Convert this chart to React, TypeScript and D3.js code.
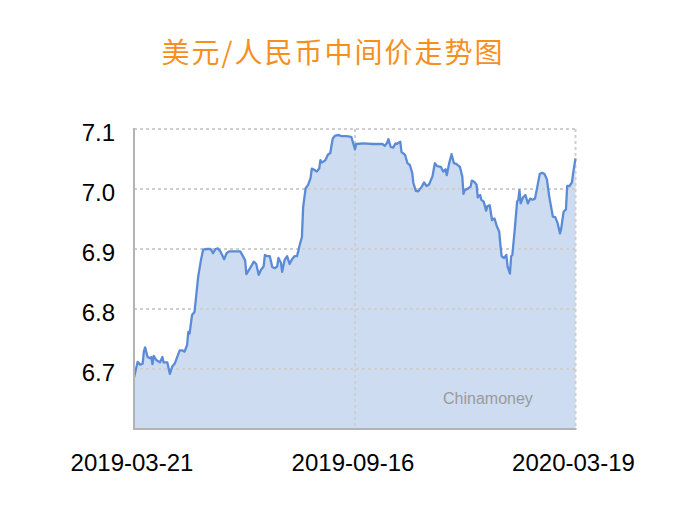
import { useMemo } from "react";
import * as d3 from "d3";

// 日期 / 中间价
const dates = [
  "2019-03-21", "2019-03-24", "2019-03-26", "2019-03-28", "2019-03-29", "2019-03-30",
  "2019-04-01", "2019-04-03", "2019-04-04", "2019-04-05", "2019-04-06", "2019-04-08",
  "2019-04-11", "2019-04-13", "2019-04-14", "2019-04-17", "2019-04-19", "2019-04-21",
  "2019-04-23", "2019-04-27", "2019-04-29", "2019-05-01", "2019-05-03", "2019-05-04",
  "2019-05-05", "2019-05-07", "2019-05-09", "2019-05-12", "2019-05-14", "2019-05-16",
  "2019-05-19", "2019-05-22", "2019-05-24", "2019-05-26", "2019-05-28", "2019-05-30",
  "2019-06-02", "2019-06-04", "2019-06-06", "2019-06-12", "2019-06-15", "2019-06-17",
  "2019-06-19", "2019-06-20", "2019-06-23", "2019-06-26", "2019-06-28", "2019-06-30",
  "2019-07-02", "2019-07-04", "2019-07-05", "2019-07-07", "2019-07-09", "2019-07-11",
  "2019-07-13", "2019-07-15", "2019-07-16", "2019-07-18", "2019-07-19", "2019-07-21",
  "2019-07-23", "2019-07-25", "2019-07-27", "2019-07-29", "2019-07-31", "2019-08-01",
  "2019-08-02", "2019-08-04", "2019-08-05", "2019-08-07", "2019-08-09", "2019-08-11",
  "2019-08-12", "2019-08-14", "2019-08-16", "2019-08-18", "2019-08-19", "2019-08-20",
  "2019-08-23", "2019-08-25", "2019-08-27", "2019-08-28", "2019-08-29", "2019-08-31",
  "2019-09-03", "2019-09-05", "2019-09-09", "2019-09-13", "2019-09-16", "2019-09-17",
  "2019-09-23", "2019-10-01", "2019-10-09", "2019-10-11", "2019-10-13", "2019-10-14",
  "2019-10-16", "2019-10-18", "2019-10-20", "2019-10-21", "2019-10-24", "2019-10-25",
  "2019-10-28", "2019-10-30", "2019-11-01", "2019-11-03", "2019-11-04", "2019-11-06",
  "2019-11-08", "2019-11-11", "2019-11-13", "2019-11-15", "2019-11-17", "2019-11-20",
  "2019-11-22", "2019-11-24", "2019-11-27", "2019-11-29", "2019-12-01", "2019-12-02",
  "2019-12-04", "2019-12-06", "2019-12-08", "2019-12-10", "2019-12-13", "2019-12-15",
  "2019-12-16", "2019-12-17", "2019-12-20", "2019-12-22", "2019-12-23", "2019-12-25",
  "2019-12-27", "2019-12-28", "2019-12-30", "2019-12-31", "2020-01-02", "2020-01-04",
  "2020-01-05", "2020-01-07", "2020-01-09", "2020-01-11", "2020-01-13", "2020-01-15",
  "2020-01-16", "2020-01-17", "2020-01-19", "2020-01-21", "2020-01-22", "2020-01-24",
  "2020-01-25", "2020-01-26", "2020-01-28", "2020-01-30", "2020-01-31", "2020-02-01",
  "2020-02-02", "2020-02-04", "2020-02-06", "2020-02-08", "2020-02-10", "2020-02-12",
  "2020-02-14", "2020-02-16", "2020-02-18", "2020-02-20", "2020-02-22", "2020-02-24",
  "2020-02-26", "2020-02-29", "2020-03-02", "2020-03-04", "2020-03-06", "2020-03-07",
  "2020-03-09", "2020-03-11", "2020-03-12", "2020-03-14", "2020-03-16", "2020-03-17",
  "2020-03-19",
];

const rates = [
  6.686, 6.712, 6.707, 6.709, 6.729, 6.736,
  6.720, 6.718, 6.720, 6.708, 6.722, 6.715,
  6.711, 6.720, 6.711, 6.711, 6.692, 6.704,
  6.709, 6.731, 6.731, 6.729, 6.740, 6.762,
  6.759, 6.790, 6.795, 6.854, 6.879, 6.899,
  6.900, 6.900, 6.893, 6.900, 6.901, 6.896,
  6.883, 6.893, 6.896, 6.896, 6.896, 6.889,
  6.881, 6.858, 6.868, 6.879, 6.875, 6.857,
  6.866, 6.871, 6.890, 6.888, 6.888, 6.870,
  6.868, 6.871, 6.885, 6.877, 6.862, 6.882,
  6.888, 6.875, 6.883, 6.888, 6.888, 6.896,
  6.905, 6.920, 6.970, 7.001, 7.007, 7.018,
  7.034, 7.032, 7.029, 7.034, 7.048, 7.044,
  7.048, 7.057, 7.060, 7.073, 7.084, 7.089,
  7.090, 7.088, 7.088, 7.087, 7.066, 7.075,
  7.076, 7.075, 7.075, 7.072, 7.077, 7.083,
  7.070, 7.069, 7.076, 7.075, 7.079, 7.062,
  7.057, 7.043, 7.040, 7.027, 7.010, 6.997,
  6.996, 7.004, 7.011, 7.005, 7.007, 7.021,
  7.043, 7.038, 7.037, 7.029, 7.033, 7.023,
  7.043, 7.058, 7.043, 7.042, 7.037, 7.021,
  6.992, 6.998, 7.001, 7.004, 7.014, 7.012,
  7.007, 6.986, 6.990, 6.982, 6.979, 6.964,
  6.971, 6.973, 6.948, 6.951, 6.938, 6.929,
  6.907, 6.888, 6.885, 6.890, 6.871, 6.859,
  6.888, 6.890, 6.932, 6.979, 6.982, 6.998,
  6.976, 6.986, 6.990, 6.976, 6.984, 6.982,
  6.984, 7.004, 7.025, 7.027, 7.025, 7.016,
  6.987, 6.954, 6.953, 6.943, 6.926, 6.934,
  6.962, 6.966, 7.005, 7.005, 7.011, 7.026,
  7.051,
];

const xTickLabels = ["2019-03-21", "2019-09-16", "2020-03-19"];
const yTicks = [6.7, 6.8, 6.9, 7.0, 7.1];
const yDomain = [6.6, 7.1];

const title = "美元/人民币中间价走势图";
const watermark = "Chinamoney";

const WIDTH = 688;
const HEIGHT = 505;
const plot = { left: 134, right: 575.5, top: 129, bottom: 429 };

const parse = d3.timeParse("%Y-%m-%d");

export default function App() {
  // X轴: 按交易日分段
  const tickDates = useMemo(() => xTickLabels.map((s) => parse(s) as Date), []);
  const xScale = useMemo(() => {
    return d3
      .scaleTime()
      .domain(tickDates)
      .range([plot.left, (plot.left + plot.right) / 2 + 0.25, plot.right]);
  }, [tickDates]);

  const yScale = useMemo(() => {
    return d3.scaleLinear().domain(yDomain).range([plot.bottom, plot.top]);
  }, []);

  const points = useMemo(() => {
    return dates.map((d, i) => ({ date: parse(d) as Date, value: rates[i] }));
  }, []);

  const linePath = useMemo(() => {
    return (
      d3
        .line<{ date: Date; value: number }>()
        .x((d) => xScale(d.date))
        .y((d) => yScale(d.value))(points) ?? ""
    );
  }, [points, xScale, yScale]);

  const areaPath = useMemo(() => {
    return (
      d3
        .area<{ date: Date; value: number }>()
        .x((d) => xScale(d.date))
        .y0(yScale(yDomain[0]))
        .y1((d) => yScale(d.value))(points) ?? ""
    );
  }, [points, xScale, yScale]);

  const fmt = d3.format(".1f");
  const gridColor = "#cfcfcf";
  const axisColor = "#b3b3b3";

  return (
    <svg
      width={WIDTH}
      height={HEIGHT}
      viewBox={`0 0 ${WIDTH} ${HEIGHT}`}
      style={{ position: "absolute", left: 0, top: 0, background: "#fff" }}
    >
      <text
        x={333}
        y={63}
        textAnchor="middle"
        fill="#f5901e"
        style={{
          fontFamily: "'Noto Sans CJK SC', sans-serif",
          fontSize: "28px",
          letterSpacing: "2px",
        }}
      >
        {title}
      </text>

      {/* Area */}
      <path d={areaPath} fill="#cddcf1" stroke="none" />

      {/* Grid */}
      {yTicks.map((t) => (
        <line
          key={`gy-${t}`}
          x1={plot.left}
          x2={plot.right}
          y1={yScale(t)}
          y2={yScale(t)}
          stroke={gridColor}
          strokeWidth={2}
          strokeDasharray="3 3"
        />
      ))}
      {tickDates.slice(1).map((d, i) => (
        <line
          key={`gx-${i}`}
          x1={xScale(d)}
          x2={xScale(d)}
          y1={plot.top}
          y2={plot.bottom}
          stroke={gridColor}
          strokeWidth={2}
          strokeDasharray="3 3"
        />
      ))}

      {/* Plot */}
      <path d={linePath} fill="none" stroke="#5b8bd6" strokeWidth={2.3} strokeLinejoin="round" />

      {/* Axis */}
      <line
        x1={plot.left}
        x2={plot.left}
        y1={plot.top - 1}
        y2={plot.bottom}
        stroke={axisColor}
        strokeWidth={2}
      />
      <line
        x1={plot.left - 1}
        x2={plot.right + 1}
        y1={plot.bottom}
        y2={plot.bottom}
        stroke={axisColor}
        strokeWidth={2}
      />

      {yTicks.map((t) => (
        <text
          key={`ty-${t}`}
          x={plot.left - 19}
          y={yScale(t) + 11.5}
          textAnchor="end"
          fill="#000"
          style={{ fontFamily: "'Liberation Sans', Arial, sans-serif", fontSize: "24px" }}
        >
          {fmt(t)}
        </text>
      ))}
      {tickDates.map((d, i) => (
        <text
          key={`tx-${i}`}
          x={xScale(d) - 2}
          y={470.5}
          textAnchor="middle"
          fill="#000"
          style={{ fontFamily: "'Liberation Sans', Arial, sans-serif", fontSize: "24px" }}
        >
          {xTickLabels[i]}
        </text>
      ))}

      <text
        x={443}
        y={404}
        fill="#9a9a9a"
        style={{ fontFamily: "'Liberation Sans', Arial, sans-serif", fontSize: "16px" }}
      >
        {watermark}
      </text>
    </svg>
  );
}
